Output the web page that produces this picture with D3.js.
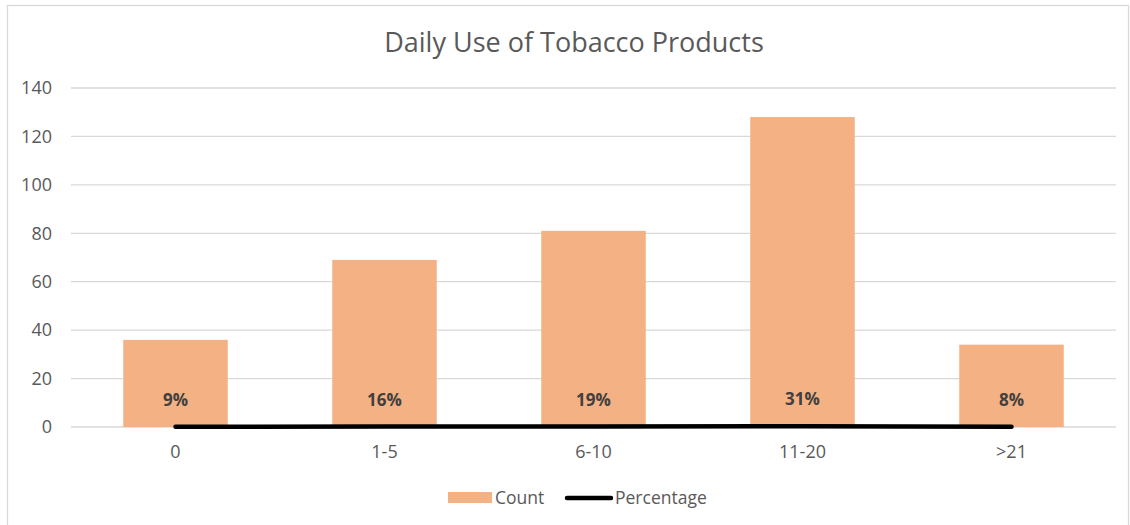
<!DOCTYPE html>
<html><head><meta charset="utf-8">
<script src="https://cdn.jsdelivr.net/npm/d3@7"></script>
<style>body{margin:0;background:#fff}svg{display:block}</style>
</head><body>
<svg id="c" width="1130" height="525"></svg>
<script>
const categories = ["0", "1-5", "6-10", "11-20", ">21"];
const counts = [36, 69, 81, 128, 34];
const percentages = [0.09, 0.16, 0.19, 0.31, 0.08];
const yTicks = [0, 20, 40, 60, 80, 100, 120, 140];
const title = "Daily Use of Tobacco Products";
const seriesNames = ["Count", "Percentage"];

const svg = d3.select("#c");
const font = "'Open Sans', sans-serif";
svg.append("rect").attr("x", 7.5).attr("y", 5.5).attr("width", 1121).attr("height", 530)
  .attr("fill", "#fff").attr("stroke", "#D9D9D9").attr("stroke-width", 1.3);

const L = 71, R = 1116, T = 88, B = 427;
const x = d3.scaleBand().domain(categories).range([L, R]).paddingInner(0.5).paddingOuter(0.25);
const y = d3.scaleLinear().domain([0, 140]).range([B, T]);

// gridlines
svg.append("g").selectAll("line").data(yTicks).join("line")
  .attr("x1", L).attr("x2", R).attr("y1", d => y(d)).attr("y2", d => y(d))
  .attr("stroke", "#D9D9D9").attr("stroke-width", 1.3);

// y axis
const ya = svg.append("g").attr("transform", `translate(${L},0)`)
  .call(d3.axisLeft(y).tickValues(yTicks).tickSize(0).tickPadding(19));
ya.select(".domain").remove();
ya.selectAll("text").attr("fill", "#595959").style("font-family", font).style("font-size", "18px");

// x axis
const xa = svg.append("g").attr("transform", `translate(0,${B})`)
  .call(d3.axisBottom(x).tickSize(0).tickPadding(18));
xa.select(".domain").remove();
xa.selectAll("text").attr("fill", "#595959").style("font-family", font).style("font-size", "18px");

// bars
svg.append("g").selectAll("rect").data(counts).join("rect")
  .attr("x", (d, i) => x(categories[i])).attr("width", x.bandwidth())
  .attr("y", d => y(d)).attr("height", d => B - y(d)).attr("fill", "#F4B183");

// line
const cx = i => x(categories[i]) + x.bandwidth() / 2;
svg.append("path").datum(percentages)
  .attr("d", d3.line().x((d, i) => cx(i)).y(d => y(d)))
  .attr("fill", "none").attr("stroke", "#000").attr("stroke-width", 4.5).attr("stroke-linecap", "round");

// labels
svg.append("g").selectAll("text").data(percentages).join("text")
  .attr("x", (d, i) => cx(i)).attr("y", d => y(d) - 21)
  .attr("text-anchor", "middle").attr("fill", "#404040").attr("font-weight", "bold")
  .style("font-family", font).style("font-size", "17px")
  .text(d => d3.format(".0%")(d));

// title
svg.append("text").attr("x", 574).attr("y", 52).attr("text-anchor", "middle")
  .attr("fill", "#595959").style("font-family", font).style("font-size", "27px")
  .text(title);

// legend
const lg = svg.append("g");
lg.append("rect").attr("x", 448).attr("y", 492).attr("width", 44).attr("height", 11).attr("fill", "#F4B183");
lg.append("text").attr("x", 495).attr("y", 504).attr("fill", "#595959")
  .style("font-family", font).style("font-size", "17.5px").text(seriesNames[0]);
lg.append("line").attr("x1", 567).attr("x2", 611).attr("y1", 498).attr("y2", 498)
  .attr("stroke", "#000").attr("stroke-width", 4.5).attr("stroke-linecap", "round");
lg.append("text").attr("x", 615).attr("y", 504).attr("fill", "#595959")
  .style("font-family", font).style("font-size", "17.5px").text(seriesNames[1]);
</script>
</body></html>
